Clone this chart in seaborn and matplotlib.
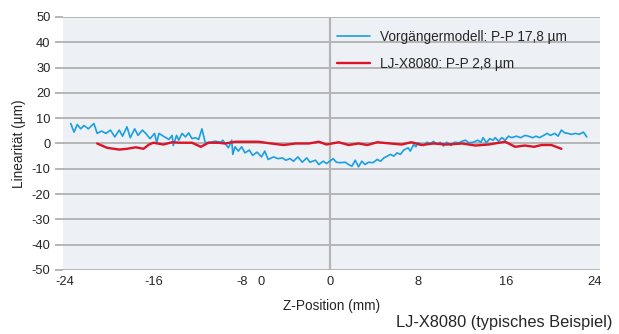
import matplotlib
matplotlib.use("Agg")
import matplotlib.pyplot as plt
import numpy as np
import pandas as pd
import seaborn as sns

# values (Z position in mm, linearity in µm)
blue_x = [-23.5, -23.2, -22.9, -22.6, -22.3, -21.9, -21.4, -21.1, -20.7, -20.3,
          -19.9, -19.5, -19.1, -18.8, -18.4, -18.1, -17.7, -17.4, -17.0, -16.7,
          -16.3, -15.9, -15.7, -15.5, -15.1, -14.6, -14.3, -14.2, -13.9, -13.7,
          -13.4, -13.1, -12.8, -12.5, -12.2, -11.9, -11.6, -11.3, -10.8, -10.4,
          -9.9, -9.7, -9.5, -9.2, -8.9, -8.8, -8.6, -8.3, -8.0, -7.7,
          -7.3, -7.0, -6.6, -6.2, -5.9, -5.6, -5.1, -4.7, -4.3, -4.0,
          -3.6, -3.3, -2.9, -2.5, -2.1, -1.8, -1.3, -1.0, -0.6, -0.3,
          0.0, 0.3, 0.6, 0.9, 1.4, 1.7, 2.0, 2.3, 2.6, 2.9,
          3.2, 3.5, 3.9, 4.3, 4.6, 4.9, 5.2, 5.5, 5.8, 6.1,
          6.4, 6.7, 7.1, 7.3, 7.6, 7.8, 8.0, 8.5, 8.8, 9.1,
          9.4, 9.8, 10.0, 10.3, 10.6, 11.0, 11.3, 11.7, 12.0, 12.3,
          12.6, 13.0, 13.4, 13.7, 13.9, 14.2, 14.5, 14.8, 15.0, 15.3,
          15.6, 15.9, 16.2, 16.5, 16.9, 17.3, 17.7, 18.0, 18.4, 18.7,
          19.0, 19.4, 19.7, 20.0, 20.4, 20.7, 21.0, 21.3, 21.6, 21.9,
          22.3, 22.6, 23.0, 23.3]
blue_y = [7.9, 4.5, 7.5, 5.8, 7.1, 5.8, 7.9, 4.0, 4.9, 4.0,
          5.3, 2.6, 5.3, 2.9, 6.6, 2.3, 5.8, 3.2, 5.3, 4.0,
          1.9, 4.0, 0.3, 4.0, 2.9, 1.6, 3.2, -0.8, 3.2, 1.3,
          4.0, 2.6, 4.2, 1.9, 2.3, 1.6, 5.8, 0.3, 0.5, 0.9,
          0.5, 1.3, 0.0, -1.7, 1.3, -4.3, -1.3, -3.0, -1.3, -3.7,
          -2.6, -4.7, -3.4, -5.3, -3.0, -6.3, -5.3, -6.0, -5.7, -6.6,
          -6.0, -7.0, -5.3, -7.4, -5.7, -7.4, -6.6, -8.3, -7.0, -7.9,
          -7.0, -6.0, -7.4, -7.6, -7.4, -8.3, -9.0, -6.6, -9.2, -7.0,
          -8.3, -7.4, -7.6, -6.3, -7.0, -5.7, -5.0, -4.3, -5.0, -3.7,
          -4.3, -2.6, -1.7, -3.0, -0.4, -1.3, 0.3, -0.8, 0.5, 0.0,
          0.8, -0.4, 0.5, -1.0, 0.5, -0.8, 0.5, 0.3, 0.9, 1.3,
          0.3, 0.5, 1.3, 0.5, 2.3, 0.3, 1.9, 1.3, 2.3, 0.9,
          2.3, 1.3, 2.9, 2.3, 2.9, 2.3, 3.2, 2.9, 2.3, 2.9,
          2.3, 3.2, 4.0, 3.2, 4.0, 2.9, 5.3, 4.2, 4.0, 3.6,
          4.0, 3.6, 4.5, 2.6]

red_x = [-21.1, -20.2, -19.1, -18.4, -17.6, -16.9, -16.4, -16.0, -15.1, -14.3,
         -13.6, -12.5, -11.7, -11.0, -10.1, -9.5, -8.6, -7.7, -6.5, -5.3,
         -4.2, -3.1, -1.9, -1.0, -0.3, 0.8, 1.7, 2.6, 3.4, 4.3,
         5.5, 6.5, 7.4, 8.3, 9.4, 10.6, 12.0, 13.2, 14.4, 15.9,
         16.8, 17.7, 18.5, 19.2, 20.1, 21.0]
red_y = [0.0, -1.7, -2.4, -2.1, -1.5, -2.1, -0.4, 0.3, -0.4, 0.5,
         0.3, 0.3, -1.3, 0.3, 0.3, 0.0, 0.7, 0.7, 0.7, 0.0,
         -0.6, 0.0, 0.0, 0.7, -0.4, 0.5, -0.6, 0.0, -0.6, 0.5,
         0.0, -0.4, 0.5, -0.6, 0.0, -0.4, 0.0, -0.8, -0.4, 0.7,
         -1.3, -0.8, -1.3, -0.6, -0.6, -2.1]

series_labels = ["Vorgängermodell: P-P 17,8 µm", "LJ-X8080: P-P 2,8 µm"]
x_ticks = [-24, -16, -8, -6.2, 0, 8, 16, 24]
x_ticklabels = ["-24", "-16", "-8", "0", "0", "8", "16", "24"]
y_ticks = list(range(-50, 51, 10))

BG = "#edf0f4"
GRID = "#b5b5b5"
BLUE = "#1a9fe0"
RED = "#dc1428"

sns.set_theme(style="white")
plt.rcParams["font.family"] = ["Liberation Sans", "DejaVu Sans"]
plt.rcParams["axes.unicode_minus"] = False

fig = plt.figure(figsize=(6.19, 3.34), dpi=100)
ax = fig.add_axes([63 / 619, 64 / 334, 537 / 619, 253 / 334])
ax.set_facecolor(BG)

for y in y_ticks:
    ax.axhline(y, color=GRID, lw=1.4, zorder=1)
ax.axvline(0, color=GRID, lw=1.6, zorder=1)

blue = pd.DataFrame({"x": blue_x, "y": blue_y})
red = pd.DataFrame({"x": red_x, "y": red_y})
sns.lineplot(data=blue, x="x", y="y", ax=ax, color=BLUE, lw=1.2,
             estimator=None, sort=False, label=series_labels[0], zorder=3)
sns.lineplot(data=red, x="x", y="y", ax=ax, color=RED, lw=1.7,
             estimator=None, sort=False, label=series_labels[1], zorder=4)

ax.set_xlim(-24.2, 24.5)
ax.set_ylim(-50, 50)
ax.set_yticks(y_ticks)
ax.set_xticks(x_ticks)
ax.set_xticklabels(x_ticklabels)
for s in ax.spines.values():
    s.set_visible(False)
ax.tick_params(axis="y", length=6, width=1.4, color=GRID, pad=3,
               labelsize=9.3, left=True)
ax.tick_params(axis="x", length=0, pad=4, labelsize=9.3)

ax.set_xlabel("Z-Position (mm)", fontsize=9.8, labelpad=8)
ax.set_ylabel("Linearität (µm)", fontsize=9.8, labelpad=4)

leg = ax.legend(loc="upper left", bbox_to_anchor=(0.51, 0.95), frameon=False,
                fontsize=9.8, handlelength=2.4, handletextpad=0.8,
                labelspacing=0.95, borderpad=0, borderaxespad=0)

fig.text(0.989, 0.012, "LJ-X8080 (typisches Beispiel)", ha="right",
         va="bottom", fontsize=11.8)

fig.savefig("out.png", dpi=100)
